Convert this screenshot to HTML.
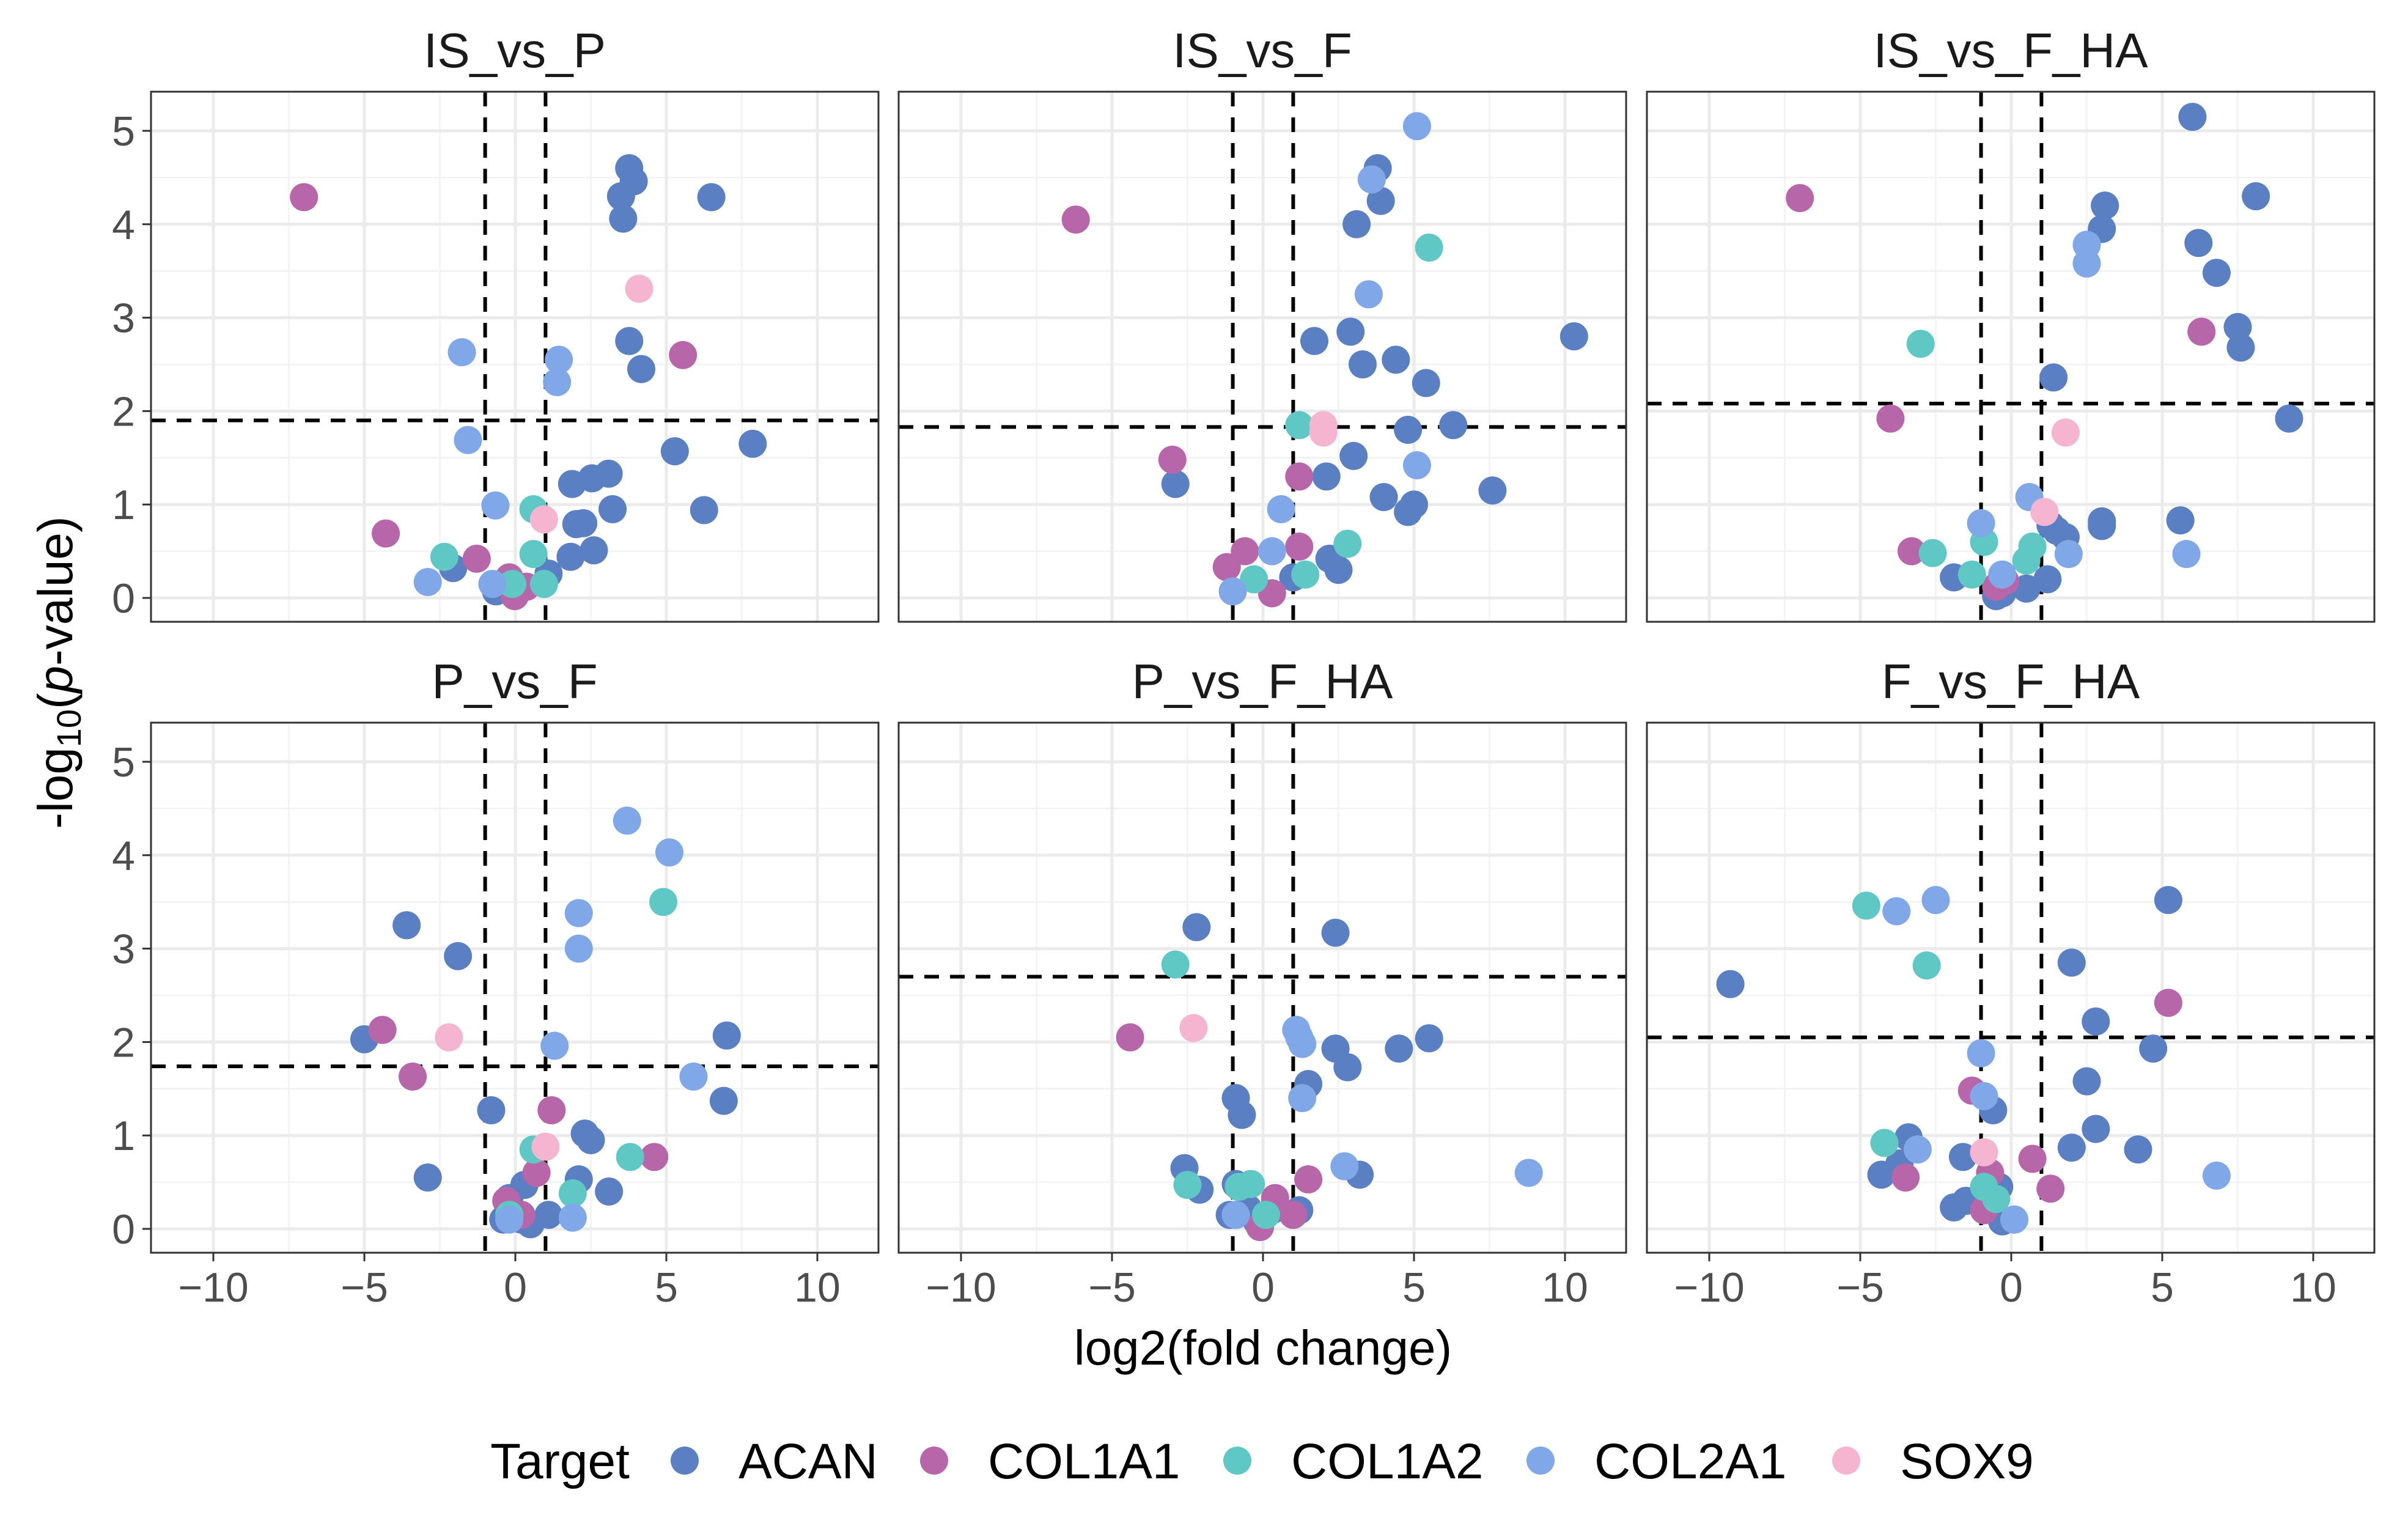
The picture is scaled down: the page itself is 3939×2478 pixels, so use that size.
<!DOCTYPE html>
<html><head><meta charset="utf-8"><style>
html,body{margin:0;padding:0;background:#fff;}
svg{display:block;font-family:"Liberation Sans",Arial,sans-serif;}
</style></head><body>
<svg id="chart" width="3939" height="2478" viewBox="0 0 3939 2478">
<rect width="3939" height="2478" fill="#fff"/>
<g id="panels"></g>
<text x="2066" y="2232" font-size="80" text-anchor="middle" fill="#000">log2(fold change)</text>
<text transform="translate(118,1100) rotate(-90)" font-size="80" text-anchor="middle" fill="#000">-log<tspan font-size="56" dy="14">10</tspan><tspan dy="-14">(</tspan><tspan font-style="italic">p</tspan>-value)</text>
<g id="legend"></g>
</svg>
<script>
const panelTitles = ["IS_vs_P","IS_vs_F","IS_vs_F_HA","P_vs_F","P_vs_F_HA","F_vs_F_HA"];
const targets = ["ACAN","COL1A1","COL1A2","COL2A1","SOX9"];
const targetColors = ["#5A7FC3","#B766AA","#5FC8C5","#80A8E8","#F5B5D0"];
const xTicks = [-10,-5,0,5,10];
const xTickLabels = ["\u221210","\u22125","0","5","10"];
const yTicks = [0,1,2,3,4,5];
const hThresholds = [1.9,1.83,2.08,1.74,2.7,2.05];
const vThresholds = [-1,1];
const p1 = [
 [[3.77,4.6],[3.92,4.46],[3.5,4.3],[3.57,4.06],[6.49,4.29],[3.77,2.75],[4.17,2.45],[5.28,1.57],[7.86,1.65],[1.88,1.22],[2.54,1.28],[3.09,1.33],[3.22,0.95],[2.02,0.79],[2.25,0.8],[6.25,0.94],[1.83,0.44],[2.6,0.51],[-2.06,0.32],[1.1,0.26],[-0.64,0.07]],
 [[-7.0,4.29],[5.55,2.6],[-4.29,0.69],[-1.28,0.42],[-0.2,0.22],[0.37,0.12],[-0.02,0.02]],
 [[0.6,0.95],[0.6,0.47],[-2.35,0.44],[0.95,0.15],[-0.1,0.15]],
 [[-1.77,2.63],[1.44,2.55],[1.38,2.31],[-1.57,1.69],[-0.66,0.99],[-2.9,0.17],[-0.76,0.15]],
 [[4.1,3.31],[0.95,0.84]]
];
const p2 = [
 [[3.8,4.6],[3.9,4.25],[3.1,4.0],[10.3,2.8],[1.7,2.75],[2.9,2.85],[3.3,2.5],[4.4,2.55],[5.4,2.3],[6.3,1.85],[4.8,1.8],[3.0,1.52],[2.1,1.3],[7.6,1.15],[4.0,1.08],[5.0,1.0],[4.8,0.92],[-2.9,1.22],[2.2,0.42],[2.5,0.3],[1.0,0.22]],
 [[-6.2,4.05],[-3.0,1.48],[1.2,1.3],[-1.2,0.33],[-0.6,0.5],[1.2,0.55],[0.3,0.05]],
 [[5.5,3.75],[1.2,1.85],[2.8,0.58],[-0.3,0.2],[1.4,0.25]],
 [[5.1,5.05],[3.6,4.48],[3.5,3.25],[5.1,1.42],[0.6,0.95],[0.3,0.5],[-1.0,0.07]],
 [[2.0,1.85],[2.0,1.77]]
];
const p3 = [
 [[6.0,5.15],[8.1,4.3],[3.1,4.2],[3.0,3.95],[6.2,3.8],[6.8,3.48],[7.5,2.9],[7.6,2.68],[9.2,1.92],[1.4,2.36],[5.6,0.83],[3.0,0.82],[3.0,0.77],[1.3,0.78],[1.5,0.72],[1.8,0.65],[-1.9,0.22],[-0.3,0.05],[-0.5,0.02],[1.2,0.2],[0.5,0.1]],
 [[-7.0,4.28],[6.3,2.85],[-4.0,1.92],[-3.3,0.5],[-0.5,0.12],[-0.2,0.18]],
 [[-3.0,2.72],[-2.6,0.48],[-0.9,0.6],[-1.3,0.25],[0.5,0.4],[0.7,0.55]],
 [[2.5,3.78],[2.5,3.58],[0.6,1.08],[-1.0,0.8],[5.8,0.47],[1.9,0.47],[-0.3,0.25]],
 [[1.8,1.77],[1.1,0.92]]
];
const p4 = [
 [[-3.6,3.25],[-1.9,2.92],[-5.0,2.03],[7.0,2.07],[6.9,1.37],[-0.8,1.27],[2.3,1.02],[2.5,0.95],[2.1,0.53],[3.1,0.4],[-2.9,0.55],[0.3,0.47],[-0.2,0.33],[1.1,0.15],[0.2,0.1],[-0.4,0.1],[0.5,0.05]],
 [[-4.4,2.13],[-3.4,1.63],[1.2,1.27],[4.6,0.77],[0.7,0.6],[-0.3,0.3],[0.2,0.15]],
 [[4.9,3.5],[0.6,0.85],[3.8,0.77],[1.9,0.38],[-0.2,0.15]],
 [[3.7,4.37],[5.1,4.03],[2.1,3.38],[2.1,3.0],[1.3,1.96],[5.9,1.63],[1.9,0.12],[-0.2,0.1]],
 [[-2.2,2.05],[1.0,0.88]]
];
const p5 = [
 [[-2.2,3.23],[2.4,3.17],[5.5,2.04],[4.5,1.93],[2.4,1.93],[2.8,1.73],[1.5,1.55],[-0.9,1.4],[-0.7,1.22],[-2.6,0.65],[-2.1,0.42],[3.2,0.58],[-0.9,0.48],[-1.1,0.15],[-0.5,0.22],[0.3,0.2],[1.2,0.2],[-0.2,0.08]],
 [[-4.4,2.05],[1.5,0.53],[0.4,0.33],[1.0,0.15],[-0.1,0.02]],
 [[-2.9,2.83],[-2.5,0.47],[-0.4,0.48],[-0.8,0.45],[0.1,0.15]],
 [[1.1,2.13],[1.2,2.05],[1.3,1.98],[1.3,1.4],[2.7,0.67],[8.8,0.6],[-0.9,0.15]],
 [[-2.3,2.15]]
];
const p6 = [
 [[-9.3,2.62],[5.2,3.52],[2.0,2.85],[2.8,2.22],[2.5,1.58],[4.7,1.93],[2.8,1.07],[2.0,0.87],[4.2,0.85],[-0.6,1.27],[-3.4,0.98],[-4.3,0.58],[-1.6,0.77],[-1.9,0.23],[-1.5,0.3],[-0.4,0.45],[0.1,0.1],[-0.3,0.08],[-1.0,0.27],[-3.7,0.7]],
 [[5.2,2.42],[-1.3,1.48],[-0.7,0.6],[0.7,0.75],[1.3,0.43],[-3.5,0.55],[-0.9,0.2]],
 [[-4.8,3.46],[-2.8,2.82],[-4.2,0.92],[-0.5,0.32],[-0.9,0.45]],
 [[-2.5,3.52],[-3.8,3.4],[-1.0,1.88],[-0.9,1.42],[-3.1,0.85],[6.8,0.57],[0.1,0.1]],
 [[-0.9,0.82]]
];
const panelData = [p1,p2,p3,p4,p5,p6];

const NS = "http://www.w3.org/2000/svg";
const PW = 1190, PH = 867;
const lefts = [247,1470,2694], tops = [150,1182];
const X0OFF = 596, XU = 49.4, Y0OFF = 828, YU = 152.8;
function mk(tag, attrs, parent){const e=document.createElementNS(NS,tag);for(const k in attrs)e.setAttribute(k,attrs[k]);parent.appendChild(e);return e;}
const root = document.getElementById("panels");
panelTitles.forEach((title,i)=>{
  const col=i%3,row=Math.floor(i/3);
  const L=lefts[col],T=tops[row];
  const sx=v=>L+X0OFF+v*XU, sy=v=>T+Y0OFF-v*YU;
  const g=mk("g",{},root);
  
  
  const st=mk("text",{x:L+PW/2,y:T-40,"font-size":80,"text-anchor":"middle",fill:"#1a1a1a"},g);
  st.textContent=title;
  
  
  const clip=mk("clipPath",{id:"c"+i},g);mk("rect",{x:L,y:T,width:PW,height:PH},clip);
  const inner=mk("g",{"clip-path":"url(#c"+i+")"},g);
  for(let v=-12.5;v<=12.5;v+=5){mk("line",{x1:sx(v),x2:sx(v),y1:T,y2:T+PH,stroke:"#F2F2F2","stroke-width":2.5},inner);}
  for(let v=-0.5;v<=5.5;v+=1){mk("line",{x1:L,x2:L+PW,y1:sy(v),y2:sy(v),stroke:"#F2F2F2","stroke-width":2.5},inner);}
  xTicks.forEach(v=>mk("line",{x1:sx(v),x2:sx(v),y1:T,y2:T+PH,stroke:"#EBEBEB","stroke-width":5},inner));
  yTicks.forEach(v=>mk("line",{x1:L,x2:L+PW,y1:sy(v),y2:sy(v),stroke:"#EBEBEB","stroke-width":5},inner));
  vThresholds.forEach(v=>{const l=mk("line",{x1:sx(v),x2:sx(v),y1:T,y2:T+PH,stroke:"#000","stroke-width":6,"stroke-dasharray":"24 18"},inner);
    });
  const hl=mk("line",{x1:L,x2:L+PW,y1:sy(hThresholds[i]),y2:sy(hThresholds[i]),stroke:"#000","stroke-width":6,"stroke-dasharray":"24 18"},inner);
  
  
  panelData[i].forEach((pts,t)=>{
    pts.forEach(p=>{
      const c=mk("circle",{cx:sx(p[0]),cy:sy(p[1]),r:23,fill:targetColors[t]},inner);
      
      
    });
  });
  mk("rect",{x:L,y:T,width:PW,height:PH,fill:"none",stroke:"#333","stroke-width":3},g);
  if(col===0){
    yTicks.forEach(v=>{
      mk("line",{x1:L-14,x2:L,y1:sy(v),y2:sy(v),stroke:"#333","stroke-width":3},g);
      const tx=mk("text",{x:L-26,y:sy(v)+24,"font-size":68,"text-anchor":"end",fill:"#4D4D4D"},g);
      tx.textContent=v;
      
      
    });
  }
  if(row===1){
    xTicks.forEach((v,k)=>{
      mk("line",{x1:sx(v),x2:sx(v),y1:T+PH,y2:T+PH+14,stroke:"#333","stroke-width":3},g);
      const tx=mk("text",{x:sx(v),y:T+PH+80,"font-size":68,"text-anchor":"middle",fill:"#4D4D4D"},g);
      tx.textContent=xTickLabels[k];
      
      
    });
  }
});
const lg=document.getElementById("legend");
const lt=mk("text",{x:802,y:2418,"font-size":82,fill:"#000"},lg);
lt.textContent="Target";


const lcx=[1120,1528,2024,2520,3020];
targets.forEach((t,k)=>{
  const c=mk("circle",{cx:lcx[k],cy:2389,r:23,fill:targetColors[k]},lg);
  
  
  const tx=mk("text",{x:lcx[k]+88,y:2418,"font-size":82,fill:"#000"},lg);
  tx.textContent=t;
  
  
});
</script>
</body></html>
